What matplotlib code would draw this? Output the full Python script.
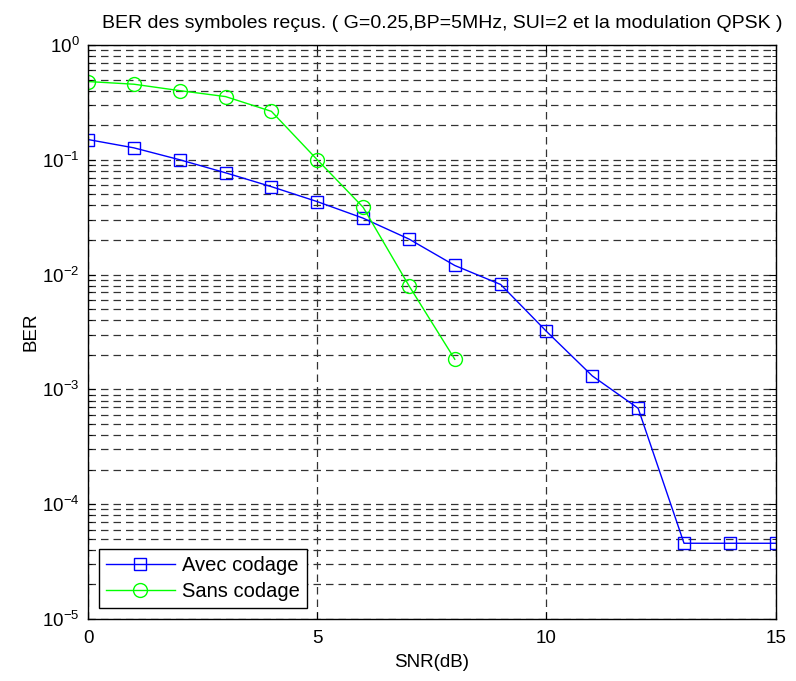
import matplotlib
matplotlib.use('Agg')
import matplotlib.pyplot as plt
from matplotlib.ticker import LogLocator, NullFormatter

plt.rcParams['font.family'] = ['Liberation Sans', 'DejaVu Sans']

snr_avec = [0, 1, 2, 3, 4, 5, 6, 7, 8, 9, 10, 11, 12, 13, 14, 15]
ber_avec = [0.150, 0.127, 0.100, 0.077, 0.0583, 0.0432, 0.031, 0.0204, 0.012,
            0.0082, 0.0032, 0.00131, 0.000684, 4.57e-5, 4.57e-5, 4.57e-5]

snr_sans = [0, 1, 2, 3, 4, 5, 6, 7, 8]
ber_sans = [0.48, 0.455, 0.40, 0.355, 0.264, 0.100, 0.0386, 0.0080, 0.00183]

titre = 'BER des symboles reçus. ( G=0.25,BP=5MHz, SUI=2 et la modulation QPSK )'

fig = plt.figure(figsize=(7.96, 6.81), dpi=100)
ax = fig.add_axes([0.1106, 0.091, 0.8639, 0.843])

ax.semilogy(snr_avec, ber_avec, color='#0000ff', marker='s', markersize=9,
            markerfacecolor='none', markeredgewidth=1, linewidth=1,
            label='Avec codage')
ax.semilogy(snr_sans, ber_sans, color='#00ff00', marker='o', markersize=10,
            markerfacecolor='none', markeredgewidth=1, linewidth=1,
            label='Sans codage')

ax.set_xlim(0, 15)
ax.set_ylim(1e-5, 1)
ax.set_xticks([0, 5, 10, 15])
ax.yaxis.set_major_locator(LogLocator(base=10, numticks=10))
ax.yaxis.set_minor_locator(LogLocator(base=10, subs=range(2, 10), numticks=50))
ax.yaxis.set_minor_formatter(NullFormatter())

ax.grid(True, which='major', axis='both', color='#333333', linestyle=(0, (6, 4)), linewidth=0.9)
ax.grid(True, which='minor', axis='y', color='#333333', linestyle=(0, (6, 4)), linewidth=0.9)

ax.tick_params(which='both', direction='in', top=True, right=True, labelsize=13.5)
ax.tick_params(which='major', length=5)
ax.tick_params(which='minor', length=3)
ax.tick_params(axis='x', pad=8)
ax.tick_params(axis='y', pad=6)
for s in ax.spines.values():
    s.set_linewidth(1)

ax.set_xlabel('SNR(dB)', fontsize=13.5, labelpad=5)
ax.set_ylabel('BER', fontsize=13.5, labelpad=2)
ax.set_title(titre, fontsize=14, pad=12, x=0.515)

leg = ax.legend(loc='lower left', fontsize=14.5, fancybox=False, framealpha=1,
                edgecolor='black', borderaxespad=0.55, handlelength=3.4,
                borderpad=0.35, labelspacing=0.35, handletextpad=0.35)
leg.get_frame().set_linewidth(1)

fig.savefig('out.png', dpi=100)
